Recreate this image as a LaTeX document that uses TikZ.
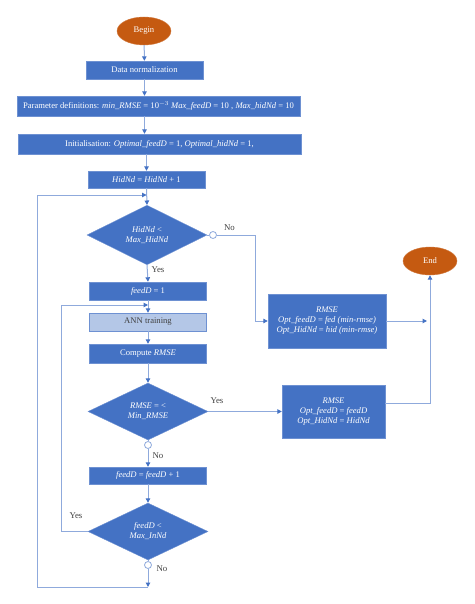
\documentclass[tikz,border=0pt]{standalone}
\usepackage{fontspec}
\setmainfont{Liberation Serif}
\usetikzlibrary{arrows.meta, shapes.geometric}
\definecolor{boxblue}{RGB}{68,114,196}
\definecolor{edgeblue}{RGB}{110,145,210}
\definecolor{lineblue}{RGB}{143,170,220}
\definecolor{annblue}{RGB}{180,199,231}
\definecolor{termorange}{RGB}{197,90,17}
\definecolor{labelgray}{RGB}{64,64,64}

\begin{document}
\begin{tikzpicture}[x=1pt, y=-1pt,
  box/.style={draw=edgeblue, fill=boxblue, text=white, inner sep=1pt, align=center,
    font=\fontsize{8.6}{10}\selectfont},
  cond/.style={diamond, draw=edgeblue, fill=boxblue, text=white, inner sep=0pt, align=center,
    minimum width=120pt, minimum height=57pt, font=\fontsize{8.6}{10}\selectfont},
  term/.style={ellipse, draw=termorange!80!white, fill=termorange, text=white, inner sep=0pt,
    minimum width=54pt, minimum height=28pt, font=\fontsize{8.6}{10}\selectfont},
  dot/.style={circle, draw=lineblue, fill=white, line width=0.8pt, minimum size=7pt, inner sep=0pt},
  lbl/.style={text=labelgray, font=\fontsize{8.8}{10}\selectfont},
  wire/.style={draw=lineblue, line width=1pt},
  flow/.style={wire, -{Triangle[length=4.5pt, width=4.5pt, color=boxblue]}}]
  \useasboundingbox (0,0) rectangle (474,604);

  % main column
  \node[term] (begin) at (144,31) {Begin};
  \node[box, minimum width=117pt, minimum height=18pt] (dn) at (144.5,70) {Data normalization};
  \node[box, minimum width=283pt, minimum height=20pt] (par) at (158.5,106)
    {Parameter definitions: \textit{min\_RMSE} = 10\textsuperscript{$-3$} \textit{Max\_feedD} = 10 , \textit{Max\_hidNd} = 10};
  \node[box, minimum width=283pt, minimum height=20pt] (ini) at (159.5,144)
    {Initialisation: \textit{Optimal\_feedD} = 1, \textit{Optimal\_hidNd} = 1,};
  \node[box, minimum width=117pt, minimum height=17pt] (hid) at (146.5,179.5) {\textit{HidNd} = \textit{HidNd} + 1};
  \node[cond] (d1) at (147,235) {\textit{HidNd} <\\\textit{Max\_HidNd}};
  \node[box, minimum width=117pt, minimum height=18pt] (f1) at (148,291) {\textit{feedD} = 1};
  \node[box, fill=annblue, text=labelgray, minimum width=117pt, minimum height=18pt] (ann) at (148,322) {ANN training};
  \node[box, minimum width=117pt, minimum height=19pt] (cmp) at (148,353.5) {Compute \textit{RMSE}};
  \node[cond] (d2) at (148,411.5) {\textit{RMSE} = <\\\textit{Min\_RMSE}};
  \node[box, minimum width=117pt, minimum height=17pt] (f2) at (148,475.5) {\textit{feedD} = \textit{feedD} + 1};
  \node[cond] (d3) at (148,531.5) {\textit{feedD} <\\\textit{Max\_InNd}};

  % results and end
  \node[box, minimum width=118pt, minimum height=54pt] (r1) at (327,321)
    {\textit{RMSE}\\\textit{Opt\_feedD} = \textit{fed (min-rmse)}\\\textit{Opt\_HidNd} = \textit{hid (min-rmse)}};
  \node[box, minimum width=103pt, minimum height=53pt] (r2) at (333.5,411.5)
    {\textit{RMSE}\\\textit{Opt\_feedD} = \textit{feedD}\\\textit{Opt\_HidNd} = \textit{HidNd}};
  \node[term] (end) at (430,261) {End};

  % branch dots
  \node[dot] (c1) at (213,235) {};
  \node[dot] (c2) at (148,445) {};
  \node[dot] (c3) at (148,565) {};

  % labels
  \node[lbl] (no1) at (229.5,228) {No};
  \node[lbl] (yes1) at (158,270) {Yes};
  \node[lbl] (yes2) at (217,401) {Yes};
  \node[lbl] (no2) at (158,456) {No};
  \node[lbl] (yes3) at (76,516) {Yes};
  \node[lbl] (no3) at (162,569) {No};

  % loop corners
  \coordinate (k1) at (255,235);
  \coordinate (hin) at (146.5,195);
  \coordinate (fin) at (148,305);
  \coordinate (bot) at (148,587);
  \coordinate (lft) at (37,587);
  \coordinate (top) at (37,195);

  % straight flow
  \draw[flow] (begin) -- (dn);
  \draw[flow] (dn.south) -- (dn.south |- par.north);
  \draw[flow] (dn.south |- par.south) -- (dn.south |- ini.north);
  \draw[flow] (hid.north |- ini.south) -- (hid.north);
  \draw[flow] (hid.south) -- (d1.north);
  \draw[flow] (d1.south) -- (f1.north);
  \draw[flow] (f1.south) -- (ann.north);
  \draw[flow] (ann.south) -- (cmp.north);
  \draw[flow] (cmp.south) -- (d2.north);
  \draw[wire] (d2.south) -- (c2);
  \draw[flow] (c2) -- (f2.north);
  \draw[flow] (f2.south) -- (d3.north);
  \draw[wire] (d3.south) -- (c3);

  % branches
  \draw[wire] (d1.east) -- (c1);
  \draw[flow] (c1) -- (k1) |- (r1.west);
  \draw[flow] (d2.east) -- (r2.west);
  \draw[flow, shorten >=3pt] (r1.east) -- (r1.east -| end.south);
  \draw[flow] ([yshift=8pt]r2.east) -| (end.south);

  % loops back
  \draw[flow] (d3.west) -- ++(-26,0) |- (fin);
  \draw[flow] (c3) -- (bot);
  \draw[flow] (bot) -- (lft) -- (top) -- (hin);
\end{tikzpicture}
\end{document}
